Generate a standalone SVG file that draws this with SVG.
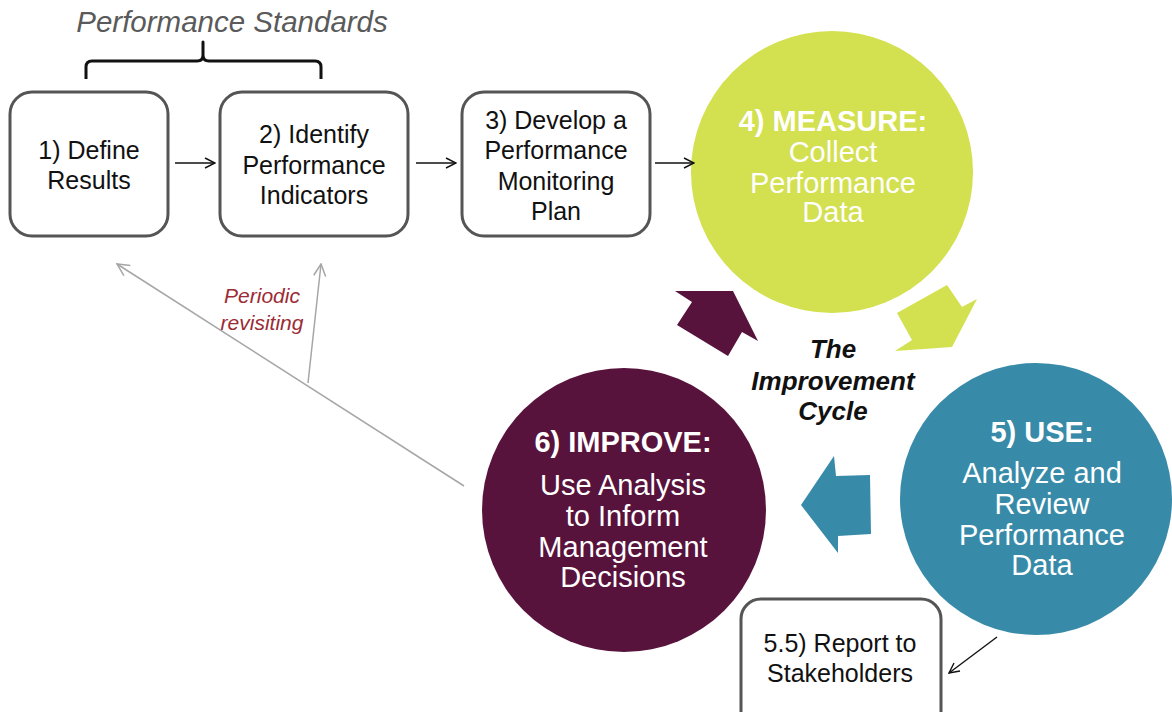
<svg xmlns="http://www.w3.org/2000/svg" width="1172" height="712" viewBox="0 0 1172 712">
<style>
.box{fill:#fff;stroke:#555;stroke-width:3}
.bt{font-family:"Liberation Sans",Arial,sans-serif;font-size:25px;fill:#111;text-anchor:middle}
.ct{font-family:"Liberation Sans",Arial,sans-serif;font-size:29px;fill:#fff;text-anchor:middle}
.ct .b{font-weight:bold}
.cl{font-family:"Liberation Sans",Arial,sans-serif;font-size:26px;font-weight:bold;font-style:italic;fill:#111;text-anchor:middle}
.pl{font-family:"Liberation Sans",Arial,sans-serif;font-size:21px;font-style:italic;fill:#9B2B35;text-anchor:middle}
.conn{fill:none;stroke:#111;stroke-width:1.4}
.gconn{fill:none;stroke:#a6a6a6;stroke-width:1.5}
</style>
<defs>
<marker id="ah" viewBox="0 0 12 12" refX="11" refY="6" markerWidth="12" markerHeight="12" markerUnits="userSpaceOnUse" orient="auto"><path d="M1,1 L11,6 L1,11" fill="none" stroke="#111" stroke-width="1.4"/></marker>
<marker id="gah" viewBox="0 0 14 14" refX="13" refY="7" markerWidth="14" markerHeight="14" markerUnits="userSpaceOnUse" orient="auto"><path d="M1,1 L13,7 L1,13" fill="none" stroke="#a6a6a6" stroke-width="1.5"/></marker>
</defs>
<rect width="1172" height="712" fill="#fff"/>

<g id="standards">
<text x="232" y="32" font-family="'Liberation Sans',Arial,sans-serif" font-size="29.5" font-style="italic" fill="#5a5a5a" text-anchor="middle">Performance Standards</text>
<path d="M86,79 L86,67 Q86,61 92,61 L197,61 Q203,61 203,55 L203,42 L203,55 Q203,61 209,61 L315,61 Q321,61 321,67 L321,79" fill="none" stroke="#111" stroke-width="3" stroke-linejoin="round"/>
</g>

<g id="box1">
<rect class="box" x="10" y="92" width="158" height="144" rx="22"/>
<text class="bt" x="89" y="159">1) Define</text>
<text class="bt" x="89" y="189">Results</text>
</g>
<g id="box2">
<rect class="box" x="220" y="92" width="188" height="144" rx="22"/>
<text class="bt" x="314" y="143">2) Identify</text>
<text class="bt" x="314" y="174">Performance</text>
<text class="bt" x="314" y="204">Indicators</text>
</g>
<g id="box3">
<rect class="box" x="462" y="92" width="188" height="144" rx="22"/>
<text class="bt" x="556" y="129">3) Develop a</text>
<text class="bt" x="556" y="159">Performance</text>
<text class="bt" x="556" y="190">Monitoring</text>
<text class="bt" x="556" y="220">Plan</text>
</g>

<g id="measure">
<circle cx="832" cy="172" r="141" fill="#D3E04F"/>
<text class="ct" x="833" y="131"><tspan class="b">4) MEASURE:</tspan></text>
<text class="ct" x="833" y="162">Collect</text>
<text class="ct" x="833" y="193">Performance</text>
<text class="ct" x="833" y="222">Data</text>
</g>

<g id="use">
<circle cx="1036" cy="499" r="136" fill="#388BA8"/>
<text class="ct" x="1042" y="442"><tspan class="b">5) USE:</tspan></text>
<text class="ct" x="1042" y="483">Analyze and</text>
<text class="ct" x="1042" y="514">Review</text>
<text class="ct" x="1042" y="545">Performance</text>
<text class="ct" x="1042" y="575">Data</text>
</g>

<g id="improve">
<circle cx="624" cy="510" r="142" fill="#58133D"/>
<text class="ct" x="623" y="452"><tspan class="b">6) IMPROVE:</tspan></text>
<text class="ct" x="623" y="495">Use Analysis</text>
<text class="ct" x="623" y="526">to Inform</text>
<text class="ct" x="623" y="557">Management</text>
<text class="ct" x="623" y="587">Decisions</text>
</g>

<g id="report">
<rect class="box" x="741" y="599" width="200" height="140" rx="20"/>
<text class="bt" x="840" y="652">5.5) Report to</text>
<text class="bt" x="840" y="682">Stakeholders</text>
</g>

<g id="cycle-label">
<text class="cl" x="833" y="358">The</text>
<text class="cl" x="833" y="390">Improvement</text>
<text class="cl" x="833" y="420">Cycle</text>
</g>

<g id="cycle-arrows">
<polygon points="675,291 733,291 758,341 742,332 728,356 677,325 692,302" fill="#58133D"/>
<polygon points="947,285 962,307 977,299 952,347 895,351 912,340 897,313" fill="#D3E04F"/>
<polygon points="801,505 834,456 836,476 870,475 871,534 838,536 838,553" fill="#388BA8"/>
</g>

<g id="connectors">
<line class="conn" x1="175" y1="163" x2="215" y2="163" marker-end="url(#ah)"/>
<line class="conn" x1="416" y1="163" x2="456" y2="163" marker-end="url(#ah)"/>
<line class="conn" x1="655" y1="163" x2="694" y2="163" marker-end="url(#ah)"/>
<line class="conn" x1="997" y1="637" x2="949" y2="673" marker-end="url(#ah)"/>
<line class="gconn" x1="464" y1="486" x2="117" y2="264" marker-end="url(#gah)"/>
<line class="gconn" x1="308" y1="383" x2="321" y2="264" marker-end="url(#gah)"/>
</g>

<g id="periodic-label">
<text class="pl" x="262" y="303">Periodic</text>
<text class="pl" x="262" y="330">revisiting</text>
</g>
</svg>
